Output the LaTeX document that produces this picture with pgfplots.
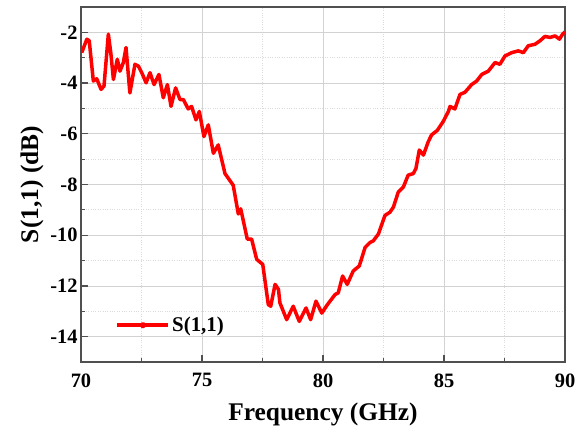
\documentclass[border=0pt]{standalone}
\usepackage{pgfplots}
\pgfplotsset{compat=1.18}
\usepackage{fontspec}
\setmainfont{Liberation Serif}
\definecolor{gridgray}{RGB}{210,210,210}
\definecolor{boxgray}{RGB}{80,80,80}

\pgfplotstableread{
f s11
70.03 -2.80
70.24 -2.27
70.34 -2.33
70.51 -3.92
70.65 -3.83
70.83 -4.25
70.95 -4.12
71.13 -2.07
71.23 -2.80
71.34 -3.86
71.50 -3.06
71.61 -3.53
71.75 -3.19
71.86 -2.60
72.02 -4.39
72.23 -3.26
72.37 -3.33
72.51 -3.59
72.69 -3.99
72.85 -3.59
73.02 -4.06
73.22 -3.66
73.40 -4.58
73.57 -4.06
73.72 -4.92
73.91 -4.19
74.09 -4.65
74.23 -4.65
74.43 -5.02
74.57 -4.92
74.75 -5.45
74.89 -5.12
75.08 -6.11
75.26 -5.65
75.47 -6.77
75.67 -6.44
75.95 -7.57
76.29 -8.03
76.50 -9.16
76.60 -8.96
76.87 -10.15
77.05 -10.15
77.26 -10.95
77.42 -11.08
77.51 -11.15
77.74 -12.74
77.84 -12.80
78.02 -11.94
78.16 -12.14
78.22 -12.67
78.50 -13.33
78.77 -12.80
79.02 -13.40
79.30 -12.87
79.49 -13.33
79.71 -12.60
79.95 -13.07
80.18 -12.74
80.50 -12.34
80.63 -12.27
80.81 -11.61
81.00 -11.94
81.25 -11.41
81.50 -11.21
81.74 -10.48
81.94 -10.29
82.08 -10.22
82.29 -9.95
82.56 -9.22
82.77 -9.09
82.91 -8.89
83.11 -8.30
83.32 -8.10
83.52 -7.63
83.73 -7.57
83.84 -7.37
83.98 -6.64
84.15 -6.84
84.35 -6.31
84.49 -6.04
84.72 -5.87
84.97 -5.51
85.18 -5.12
85.25 -4.92
85.45 -5.02
85.66 -4.45
85.87 -4.36
86.14 -4.06
86.35 -3.92
86.56 -3.66
86.83 -3.53
87.11 -3.19
87.31 -3.26
87.52 -2.93
87.80 -2.80
88.07 -2.73
88.28 -2.80
88.48 -2.53
88.76 -2.47
88.97 -2.33
89.17 -2.16
89.38 -2.20
89.59 -2.14
89.77 -2.27
89.90 -2.07
90.00 -1.98
}\sparams

\begin{document}
\begin{tikzpicture}
\begin{axis}[
  scale only axis,
  width=484bp, height=355bp,
  xmin=70, xmax=90,
  ymin=-15, ymax=-1,
  xtick={70,75,80,85,90},
  ytick={-14,-12,-10,-8,-6,-4,-2},
  yticklabels={-14,-12,-10,-8,-6,-4,-2},
  minor x tick num=1,
  minor y tick num=1,
  tick pos=left,
  tick align=inside,
  major tick length=7bp,
  minor tick length=4bp,
  tick style={boxgray, line width=1.2bp},
  axis line style={boxgray, line width=1.5bp},
  grid=both,
  major grid style={gridgray, line width=0.8bp},
  minor grid style={gridgray!80, dotted, line width=0.8bp},
  /pgf/number format/assume math mode=true,
  ticklabel style={font=\fontsize{20.5}{24}\selectfont\bfseries},
  xticklabel style={yshift=-8bp},
  xlabel={Frequency (GHz)},
  ylabel={S(1,1) (dB)},
  label style={font=\fontsize{25.5}{30}\selectfont\bfseries},
  xlabel style={yshift=-9bp},
  legend style={at={(axis cs:71.3,-13.55)}, anchor=west, draw=none, fill=none,
    font=\fontsize{21}{25}\selectfont\bfseries},
  legend image code/.code={
    \draw[#1, mark=none] (0cm,0cm) -- (1.8cm,0cm);
    \fill[red] (0.9cm,0cm) circle (1.6bp);
  },
]
\addplot[red, line width=3.5bp, line join=round] table[x=f, y=s11] {\sparams};
\addlegendentry{S(1,1)}
\end{axis}
\path[use as bounding box] (-81bp,-73bp) rectangle (506bp,362bp);
\end{tikzpicture}
\end{document}
